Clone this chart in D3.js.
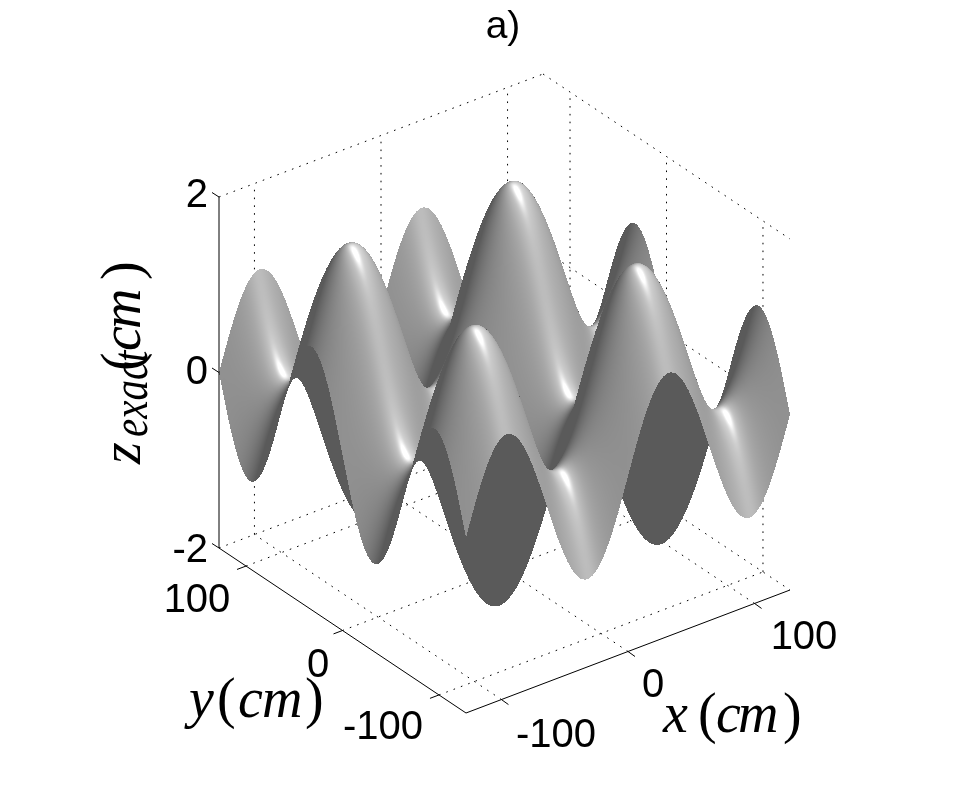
<!DOCTYPE html>
<html><head><meta charset="utf-8">
<script src="https://cdn.jsdelivr.net/npm/d3@7"></script>
<style>html,body{margin:0;padding:0;background:#fff}#wrap{position:relative;width:975px;height:803px}#wrap>*{position:absolute;left:0;top:0;display:block}</style>
</head><body><div id="wrap"><svg id="back" width="975" height="803" viewBox="0 0 975 803"></svg><canvas id="surface" width="975" height="803"></canvas><svg id="front" width="975" height="803" viewBox="0 0 975 803"></svg></div>
<script>
// ---- chart values ----
const gridStep = 2; // cm between samples, x and y both start at -128
const xProfile = [0,.098,.195,.29,.383,.471,.556,.634,.707,.773,.831,.882,.924,.957,.981,.995,1,.995,.981,.957,.924,.882,.831,.773,.707,.634,.556,.471,.383,.29,.195,.098,0,-.098,-.195,-.29,-.383,-.471,-.556,-.634,-.707,-.773,-.831,-.882,-.924,-.957,-.981,-.995,-1,-.995,-.981,-.957,-.924,-.882,-.831,-.773,-.707,-.634,-.556,-.471,-.383,-.29,-.195,-.098,0,.098,.195,.29,.383,.471,.556,.634,.707,.773,.831,.882,.924,.957,.981,.995,1,.995,.981,.957,.924,.882,.831,.773,.707,.634,.556,.471,.383,.29,.195,.098,0,-.098,-.195,-.29,-.383,-.471,-.556,-.634,-.707,-.773,-.831,-.882,-.924,-.957,-.981,-.995,-1,-.995,-.981,-.957,-.924,-.882,-.831,-.773,-.707,-.634,-.556,-.471,-.383,-.29,-.195,-.098,0];
const yProfile = [0,.098,.195,.29,.383,.471,.556,.634,.707,.773,.831,.882,.924,.957,.981,.995,1,.995,.981,.957,.924,.882,.831,.773,.707,.634,.556,.471,.383,.29,.195,.098,0,-.098,-.195,-.29,-.383,-.471,-.556,-.634,-.707,-.773,-.831,-.882,-.924,-.957,-.981,-.995,-1,-.995,-.981,-.957,-.924,-.882,-.831,-.773,-.707,-.634,-.556,-.471,-.383,-.29,-.195,-.098,0,.098,.195,.29,.383,.471,.556,.634,.707,.773,.831,.882,.924,.957,.981,.995,1,.995,.981,.957,.924,.882,.831,.773,.707,.634,.556,.471,.383,.29,.195,.098,0,-.098,-.195,-.29,-.383,-.471,-.556,-.634,-.707,-.773,-.831,-.882,-.924,-.957,-.981,-.995,-1,-.995,-.981,-.957,-.924,-.882,-.831,-.773,-.707,-.634,-.556,-.471,-.383,-.29,-.195,-.098,0];
const xTicks = [-100, 0, 100];
const yTicks = [-100, 0, 100];
const zTicks = [-2, 0, 2];
const xDomain = [-128, 128];
const yDomain = [-128, 128];
const zDomain = [-2, 2];

// ---- oblique projection built from linear scales ----
const origin = [466, 713];
const xToSX = d3.scaleLinear().domain(xDomain).range([0, 324]);
const xToSY = d3.scaleLinear().domain(xDomain).range([0, -123]);
const yToSX = d3.scaleLinear().domain(yDomain).range([0, -247]);
const yToSY = d3.scaleLinear().domain(yDomain).range([0, -165]);
const zToSY = d3.scaleLinear().domain(zDomain).range([0, -351]);
const project = (x, y, z) => [
  origin[0] + xToSX(x) + yToSX(y),
  origin[1] + xToSY(x) + yToSY(y) + zToSY(z)
];
const xUnit = d3.scaleLinear().domain(xDomain).range([0, 1]);
const yUnit = d3.scaleLinear().domain(yDomain).range([0, 1]);
const zUnit = d3.scaleLinear().domain(zDomain).range([0, 1]);

const svg = d3.select('#front');
const fmt = p => p[0].toFixed(2) + ',' + p[1].toFixed(2);
const gridG = d3.select('#back').append('g').attr('fill', 'none').attr('stroke', '#000')
  .attr('stroke-width', 1).attr('stroke-dasharray', '1.6 6.2');
function gridLine(a, b) {
  gridG.append('path').attr('d', 'M' + fmt(project(...a)) + 'L' + fmt(project(...b)));
}
const [x0, x1] = xDomain, [y0, y1] = yDomain, [z0, z1] = zDomain;
// floor
xTicks.forEach(x => gridLine([x, y0, z0], [x, y1, z0]));
yTicks.forEach(y => gridLine([x0, y, z0], [x1, y, z0]));
gridLine([x0, y1, z0], [x1, y1, z0]);
gridLine([x1, y1, z0], [x1, y0, z0]);
// back walls
xTicks.forEach(x => gridLine([x, y1, z0], [x, y1, z1]));
yTicks.forEach(y => gridLine([x1, y, z0], [x1, y, z1]));
zTicks.slice(1).forEach(z => {
  gridLine([x0, y1, z], [x1, y1, z]);
  gridLine([x1, y1, z], [x1, y0, z]);
});

// ---- surface ----
const xs = xProfile.map((_, i) => x0 + i * gridStep);
const ys = yProfile.map((_, j) => y0 + j * gridStep);
const Z = xs.map((_, i) => ys.map((_, j) => xProfile[i] + yProfile[j]));

const rad = Math.PI / 180, az = -37.5 * rad, el = 30 * rad;
const V = [Math.sin(az) * Math.cos(el), -Math.cos(az) * Math.cos(el), Math.sin(el)];
const R = [Math.cos(az), Math.sin(az), 0];
const U = [-Math.sin(az) * Math.sin(el), Math.cos(az) * Math.sin(el), Math.cos(el)];
const norm = v => { const m = Math.hypot(...v); return v.map(d => d / m); };
const la = 30 * rad, lb = 30 * rad;
const L = norm([0, 1, 2].map(k => V[k] * Math.cos(la) * Math.cos(lb) + R[k] * Math.sin(la) * Math.cos(lb) + U[k] * Math.sin(lb)));
const H = norm([0, 1, 2].map(k => V[k] + L[k]));
const hx = -H[0] / H[2], hy = -H[1] / H[2];
const ambient = 0.353, diffuse = 0.42;
const shade = (zx, zy) => {
  const m = Math.hypot(zx, zy, 1), nx = -zx / m, ny = -zy / m, nz = 1 / m;
  if (nx * V[0] + ny * V[1] + nz * V[2] <= 0) return ambient;
  const nl = nx * L[0] + ny * L[1] + nz * L[2];
  if (nl <= 0) return ambient;
  const a = zx - hx, b = zy - hy;
  const sp = 0.26 * Math.exp(-(a * a) / (0.32 * 0.32) - (b * b) / (0.85 * 0.85)) +
             0.09 * Math.exp(-(a * a) / (1.0 * 1.0) - (b * b) / (3 * 3));
  return Math.min(1, ambient + diffuse * nl + sp);
};

const n = xs.length;
const verts = xs.map((x, i) => ys.map((y, j) => {
  const i0 = Math.max(i - 1, 0), i1 = Math.min(i + 1, n - 1);
  const j0 = Math.max(j - 1, 0), j1 = Math.min(j + 1, n - 1);
  const p = project(x, y, Z[i][j]);
  return {
    sx: p[0], sy: p[1],
    depth: xUnit(x) * V[0] + yUnit(y) * V[1] + zUnit(Z[i][j]) * V[2],
    zx: (zUnit(Z[i1][j]) - zUnit(Z[i0][j])) / (xUnit(xs[i1]) - xUnit(xs[i0])),
    zy: (zUnit(Z[i][j1]) - zUnit(Z[i][j0])) / (yUnit(ys[j1]) - yUnit(ys[j0]))
  };
}));
const W = 975, Ht = 803;
const ctx = document.getElementById('surface').getContext('2d');
const img = ctx.createImageData(W, Ht);
const zbuf = new Float32Array(W * Ht).fill(-1e9);
function tri(a, b, c) {
  const area = (b.sx - a.sx) * (c.sy - a.sy) - (c.sx - a.sx) * (b.sy - a.sy);
  if (Math.abs(area) < 1e-9) return;
  const minX = Math.max(0, Math.floor(Math.min(a.sx, b.sx, c.sx))), maxX = Math.min(W - 1, Math.ceil(Math.max(a.sx, b.sx, c.sx)));
  const minY = Math.max(0, Math.floor(Math.min(a.sy, b.sy, c.sy))), maxY = Math.min(Ht - 1, Math.ceil(Math.max(a.sy, b.sy, c.sy)));
  for (let py = minY; py <= maxY; py++) for (let px = minX; px <= maxX; px++) {
    const qx = px + .5, qy = py + .5;
    const w1 = ((qx - a.sx) * (c.sy - a.sy) - (c.sx - a.sx) * (qy - a.sy)) / area;
    const w2 = ((b.sx - a.sx) * (qy - a.sy) - (qx - a.sx) * (b.sy - a.sy)) / area;
    const w0 = 1 - w1 - w2;
    if (w0 < -1e-6 || w1 < -1e-6 || w2 < -1e-6) continue;
    const d = w0 * a.depth + w1 * b.depth + w2 * c.depth;
    const k = py * W + px;
    if (d <= zbuf[k]) continue;
    zbuf[k] = d;
    const g = Math.round(255 * shade(w0 * a.zx + w1 * b.zx + w2 * c.zx, w0 * a.zy + w1 * b.zy + w2 * c.zy));
    img.data[k * 4] = g; img.data[k * 4 + 1] = g; img.data[k * 4 + 2] = g; img.data[k * 4 + 3] = 255;
  }
}
for (let i = 0; i < n - 1; i++) for (let j = 0; j < n - 1; j++) {
  tri(verts[i][j], verts[i + 1][j], verts[i + 1][j + 1]);
  tri(verts[i][j], verts[i + 1][j + 1], verts[i][j + 1]);
}
ctx.putImageData(img, 0, 0);

// ---- axes ----
const axisG = svg.append('g').attr('fill', 'none').attr('stroke', '#000').attr('stroke-width', 1);
const solid = (a, b) => axisG.append('path').attr('d', 'M' + fmt(a) + 'L' + fmt(b));
solid(project(x0, y0, z0), project(x1, y0, z0));
solid(project(x0, y0, z0), project(x0, y1, z0));
solid(project(x0, y1, z0), project(x0, y1, z1));
xTicks.forEach(x => { const p = project(x, y0, z0); solid(p, [p[0] + 7, p[1] + 5]); });
yTicks.forEach(y => { const p = project(x0, y, z0); solid(p, [p[0] - 9, p[1] + 3.4]); });
zTicks.forEach(z => { const p = project(x0, y1, z); solid(p, [p[0] - 7, p[1] - 4.5]); });

// ---- text ----
const sans = '"Liberation Sans", Arial, sans-serif';
const serif = '"Liberation Serif", "Times New Roman", serif';
const lab = (t, x, y, anchor = 'middle', size = 40) => svg.append('text').attr('x', x).attr('y', y)
  .attr('text-anchor', anchor).attr('font-family', sans).attr('font-size', size).attr('fill', '#000').text(t);
lab('a)', 503, 38, 'middle', 39);
const zPos = [[-2, 208, 562], [0, 208, 384], [2, 208, 207]];
zTicks.forEach((t, i) => lab(t, zPos[i][1], zPos[i][2], 'end'));
const xPos = [[556, 747], [653, 697], [804, 649]];
xTicks.forEach((t, i) => lab(t, xPos[i][0], xPos[i][1]));
const yPos = [[383, 739], [318, 677], [197, 612]];
yTicks.forEach((t, i) => lab(t, yPos[i][0], yPos[i][1]));

// math-style labels: each glyph run sits at its own offset along the baseline
function mathLabel(runs, x, y, rotate, sx = 1) {
  const t = svg.append('text').attr('font-family', serif).attr('fill', '#000')
    .attr('transform', `translate(${x},${y}) rotate(${rotate}) scale(${sx},1)`);
  runs.forEach(r => t.append('tspan').attr('x', r.at).attr('font-style', r.style).attr('font-size', r.size).text(r.text));
}
const it = (text, at, size = 56) => ({ text, at, size, style: 'italic' });
const up = (text, at, size = 56) => ({ text, at, size, style: 'normal' });
mathLabel([it('x', 1), up('(', 36), it('c', 54), it('m', 76), up(')', 121)], 662, 732, 0);
mathLabel([it('y', 2), up('(', 30), it('c', 51), it('m', 75), up(')', 118)], 187, 717, 0);
mathLabel([it('z', 0)], 140, 464, -90);
mathLabel([it('exact', 0, 50)], 147, 437, -90, 0.82);
mathLabel([up('(', 0), it('c', 20), it('m', 42), up(')', 91)], 140, 371, -90);
</script></body></html>
